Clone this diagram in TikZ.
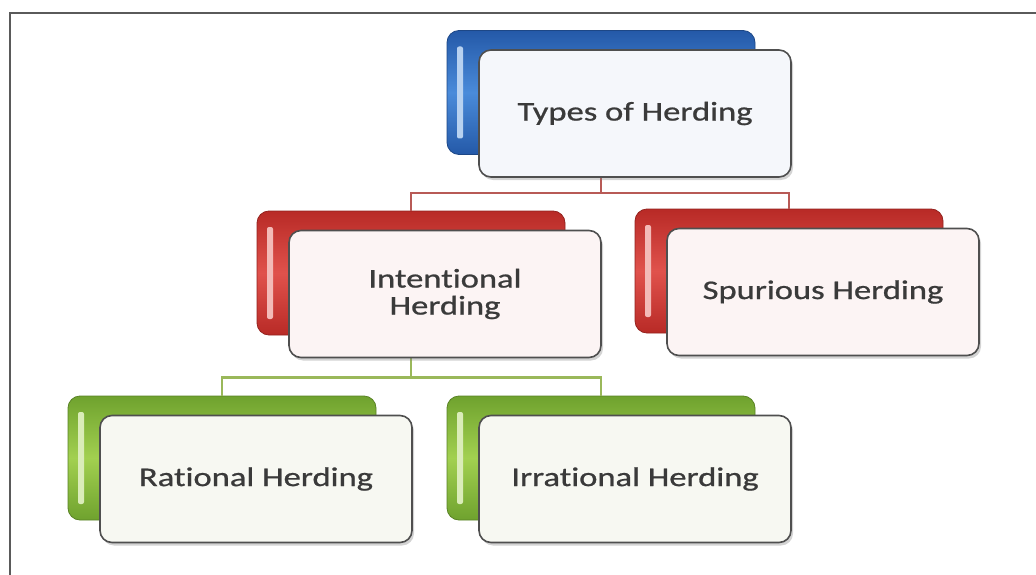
\documentclass[tikz,border=0pt]{standalone}
\usepackage{fontspec}
\setmainfont{Carlito}[Ligatures={NoCommon,NoContextual}]
\newfontfamily\boxfont{Carlito}[Ligatures={NoCommon,NoContextual}, FakeBold=0.7]
\usepackage{graphicx}
\usetikzlibrary{shadows}

\definecolor{framegray}{HTML}{5A5A5A}
\definecolor{txtgray}{HTML}{3A3A3A}
\definecolor{edgegray}{HTML}{4F4F4F}
\definecolor{blueA}{HTML}{2459A8}
\definecolor{blueB}{HTML}{4A8BDA}
\definecolor{redA}{HTML}{B82A26}
\definecolor{redB}{HTML}{E0524C}
\definecolor{greenA}{HTML}{6FA22E}
\definecolor{greenB}{HTML}{A2D050}
\definecolor{bluefront}{HTML}{F5F7FB}
\definecolor{redfront}{HTML}{FCF4F4}
\definecolor{greenfront}{HTML}{F7F8F2}
\definecolor{redline}{HTML}{B85A56}
\definecolor{greenline}{HTML}{9AB85A}

\newcommand{\wide}[1]{\scalebox{1.28}[1]{#1}}

\tikzset{
  backbox/.style 2 args={rectangle, rounded corners=12pt,
    minimum width=308pt, minimum height=124pt,
    draw=#1!80!black, line width=0.8pt,
    top color=#1, bottom color=#1, middle color=#2,
    path picture={\fill[#2!40!white, rounded corners=2pt]
      ([xshift=10pt,yshift=-16pt]path picture bounding box.north west) rectangle
      ([xshift=16pt,yshift=16pt]path picture bounding box.south west);}},
  frontbox/.style={rectangle, rounded corners=12pt,
    minimum width=312pt, minimum height=127pt,
    draw=edgegray, line width=1.6pt, fill=#1,
    drop shadow={shadow xshift=2pt, shadow yshift=-3pt, opacity=0.35},
    font=\boxfont\fontsize{27}{27}\selectfont, text=txtgray, align=center},
  redconn/.style={draw=redline, line width=2.4pt},
  greenconn/.style={draw=greenline, line width=2.4pt}
}

\begin{document}
\begin{tikzpicture}[x=1pt,y=1pt]
    \useasboundingbox (0,0) rectangle (1036,-575);
    \draw[framegray, line width=1.8pt] (10,-13) rectangle (1060,-600);

    % back boxes
    \node[backbox={blueA}{blueB}] (typesB) at (601,-92.5) {};
    \node[backbox={redA}{redB}] (intB) at (411,-273) {};
    \node[backbox={redA}{redB}] (spurB) at (789,-271) {};
    \node[backbox={greenA}{greenB}] (ratB) at (222,-458) {};
    \node[backbox={greenA}{greenB}] (irrB) at (601,-458) {};

    % connectors
    \draw[redconn] (typesB.south) -- ++(0,-38) -| (intB.north);
    \draw[redconn] (typesB.south) -- ++(0,-38) -| (spurB.north);
    \draw[greenconn] (intB.south) -- ++(0,-42) -| (ratB.north);
    \draw[greenconn] (intB.south) -- ++(0,-42) -| (irrB.north);

    % front boxes
    \node[frontbox=bluefront] (types) at ([xshift=34pt,yshift=-21pt]typesB.center) {\wide{Types of Herding}};
    \node[frontbox=redfront] (int) at ([xshift=34pt,yshift=-21pt]intB.center) {\wide{Intentional}\\\wide{Herding}};
    \node[frontbox=redfront] (spur) at ([xshift=34pt,yshift=-21pt]spurB.center) {\wide{Spurious Herding}};
    \node[frontbox=greenfront] (rat) at ([xshift=34pt,yshift=-21pt]ratB.center) {\wide{Rational Herding}};
    \node[frontbox=greenfront] (irr) at ([xshift=34pt,yshift=-21pt]irrB.center) {\wide{Irrational Herding}};
\end{tikzpicture}
\end{document}
